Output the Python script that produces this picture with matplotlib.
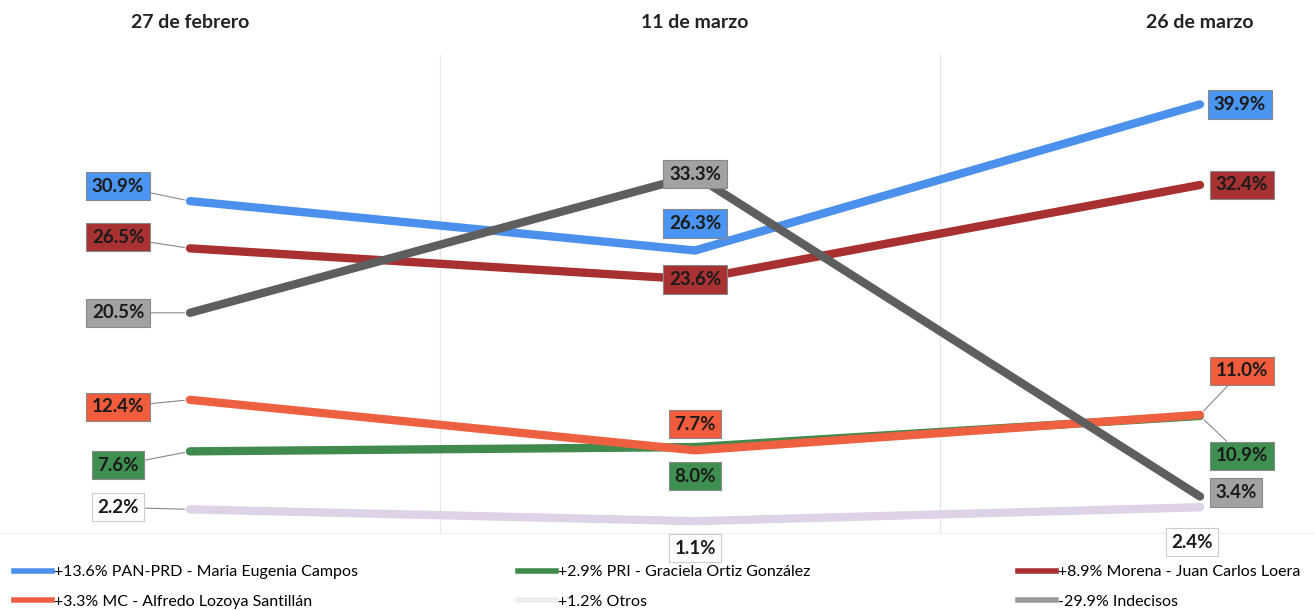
import matplotlib
matplotlib.use("Agg")
import matplotlib.pyplot as plt
from matplotlib.lines import Line2D

plt.rcParams['font.family'] = ['Lato', 'DejaVu Sans']

dates = ["27 de febrero", "11 de marzo", "26 de marzo"]
series_names = [
    "+13.6% PAN-PRD - Maria Eugenia Campos",
    "+2.9% PRI - Graciela Ortiz González",
    "+8.9% Morena - Juan Carlos Loera",
    "+3.3% MC - Alfredo Lozoya Santillán",
    "+1.2% Otros",
    "-29.9% Indecisos",
]
pan = [30.9, 26.3, 39.9]
pri = [7.6, 8.0, 10.9]
morena = [26.5, 23.6, 32.4]
mc = [12.4, 7.7, 11.0]
otros = [2.2, 1.1, 2.4]
indecisos = [20.5, 33.3, 3.4]

values = [pan, pri, morena, mc, otros, indecisos]
line_colors = ["#4a90ec", "#3f8a4c", "#a83030", "#ee6040", "#ddd2e6", "#5e5e5e"]
box_colors = ["#4a94f2", "#3f8f50", "#a83232", "#f05c3c", "#ffffff", "#a2a2a2"]
legend_colors = ["#4a90ec", "#3f8a4c", "#a83030", "#ee6040", "#eeeeee", "#9a9a9a"]

# label offsets in pixels (dx, dy up) per series per date
offsets = [
    [(-72, 15), (0, 27), (40, 0)],      # PAN
    [(-72, -14), (0, -29), (42, -40)],  # PRI
    [(-72, 11), (0, 0), (42, 0)],       # Morena
    [(-72, -7), (0, 26), (42, 44)],     # MC
    [(-72, 2), (0, -27), (-8, -35)],    # Otros
    [(-72, 0), (0, 1), (36, 4)],        # Indecisos
]
leaders = [
    [True, False, False],
    [True, False, True],
    [True, False, False],
    [True, False, True],
    [True, False, False],
    [True, False, False],
]
zorders = [5, 3, 4, 4, 2, 6]

W, H = 1314, 611
fig = plt.figure(figsize=(W / 100, H / 100), dpi=100)
ax = fig.add_axes([0, (H - 533) / H, 1, (533 - 55) / H])
ax.set_xlim(-190 / 505, 2 + 114 / 505)
ax.set_ylim(0, 44.5)

for s in ["left", "right", "top"]:
    ax.spines[s].set_visible(False)
ax.spines["bottom"].set_color("#eeeeee")
ax.set_yticks([])
ax.xaxis.tick_top()
ax.set_xticks(range(len(dates)))
ax.set_xticklabels(dates, fontsize=14, fontweight="bold", color="#222222")
ax.tick_params(axis="x", length=0, pad=17)
for xg in [0.495, 1.485]:
    ax.axvline(xg, color="#e8e8e8", lw=1, zorder=0)

x = list(range(len(dates)))
for i, vals in enumerate(values):
    ax.plot(x, vals, color=line_colors[i], lw=6, solid_capstyle="round",
            solid_joinstyle="round", zorder=zorders[i])
    for j, v in enumerate(vals):
        dx, dy = offsets[i][j]
        ec = "#cccccc" if i == 4 else "#888888"
        arrow = dict(arrowstyle="-", color="#888888", lw=0.8,
                     shrinkA=0, shrinkB=4) if leaders[i][j] else None
        ax.annotate(f"{v:.1f}%", xy=(j, v), xytext=(dx * 0.72, dy * 0.72),
                    textcoords="offset points", ha="center", va="center",
                    fontsize=13.5, fontweight="bold", color="#1a1a1a",
                    bbox=dict(boxstyle="square,pad=0.3", fc=box_colors[i],
                              ec=ec, lw=0.8),
                    arrowprops=arrow, zorder=10)

# legends (three columns, two rows each, row-wise order)
cols = [[0, 3], [1, 4], [2, 5]]
col_x = [14, 518, 1018]
for c, idxs in enumerate(cols):
    handles = [Line2D([], [], color=legend_colors[k], lw=4) for k in idxs]
    labels = [series_names[k] for k in idxs]
    fig.legend(handles, labels, loc="upper left",
               bbox_to_anchor=(col_x[c] / W, 1 - 565 / H),
               frameon=False, fontsize=11.5, handlelength=2.4,
               handletextpad=0.1, labelspacing=0.95,
               borderaxespad=0, borderpad=0)

fig.savefig("out.png", dpi=100)
